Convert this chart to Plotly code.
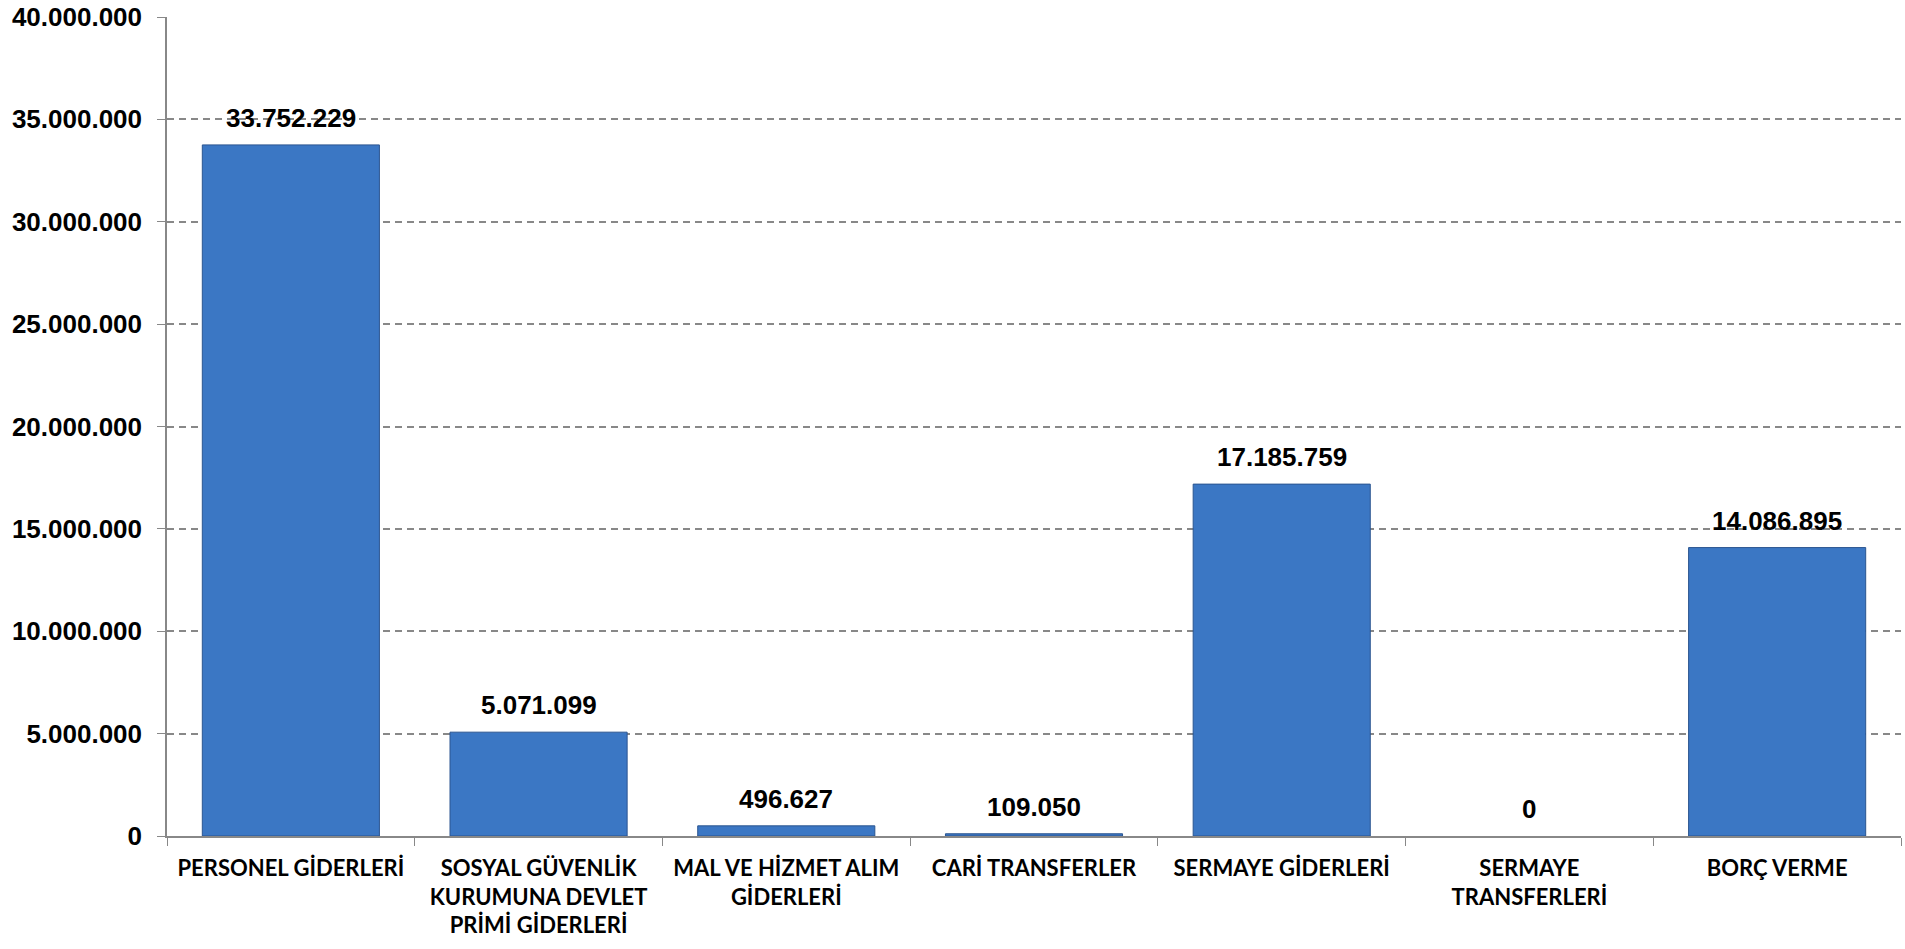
import plotly.graph_objects as go

categories = [
    "PERSONEL GİDERLERİ",
    "SOSYAL GÜVENLİK<br>KURUMUNA DEVLET<br>PRİMİ GİDERLERİ",
    "MAL VE HİZMET ALIM<br>GİDERLERİ",
    "CARİ TRANSFERLER",
    "SERMAYE GİDERLERİ",
    "SERMAYE<br>TRANSFERLERİ",
    "BORÇ VERME",
]
values = [33752229, 5071099, 496627, 109050, 17185759, 0, 14086895]
tick_values = [0, 5000000, 10000000, 15000000, 20000000, 25000000, 30000000, 35000000, 40000000]


def tr_fmt(v):
    return f"{v:,}".replace(",", ".")


labels = [tr_fmt(v) for v in values]
tick_text = [tr_fmt(v) for v in tick_values]

fig = go.Figure()
fig.add_trace(go.Bar(
    x=categories,
    y=values,
    marker=dict(
        color="#3B77C4",
        line=dict(color="#2B5590", width=[0 if v == 0 else 1 for v in values]),
    ),
    width=0.715,
))

for c, v, t in zip(categories, values, labels):
    fig.add_annotation(
        x=c, y=v, text=t, showarrow=False,
        xref="x", yref="y", yanchor="middle", yshift=27,
        font=dict(family="Liberation Sans, Arial", size=26, color="#000000", weight="bold"),
    )

fig.update_layout(
    width=1905,
    height=949,
    margin=dict(l=167, r=4, t=17, b=113),
    plot_bgcolor="#FFFFFF",
    paper_bgcolor="#FFFFFF",
    showlegend=False,
    xaxis=dict(
        automargin=False,
        tickfont=dict(family="Lato, Noto Sans", size=22, color="#000000", weight="bold"),
        showline=True,
        linecolor="#888888",
        linewidth=1.5,
        ticks="outside",
        tickson="boundaries",
        ticklen=8,
        tickcolor="#888888",
        showgrid=False,
        ticklabelstandoff=12,
    ),
    yaxis=dict(
        automargin=False,
        range=[0, 40000000],
        tickvals=tick_values,
        ticktext=tick_text,
        tickfont=dict(family="Liberation Sans, Arial", size=26, color="#000000", weight="bold"),
        ticklabeloverflow="allow",
        showline=True,
        linecolor="#888888",
        linewidth=1.5,
        ticks="outside",
        ticklen=8,
        tickcolor="#888888",
        showgrid=True,
        gridcolor="#888888",
        griddash="7px,5px",
        gridwidth=1.5,
        zeroline=False,
        ticklabelstandoff=10,
    ),
)

fig.write_html(
    "out.html",
    config={"displayModeBar": False},
    post_script="document.body.style.margin='0';document.body.style.overflow='hidden';",
)
